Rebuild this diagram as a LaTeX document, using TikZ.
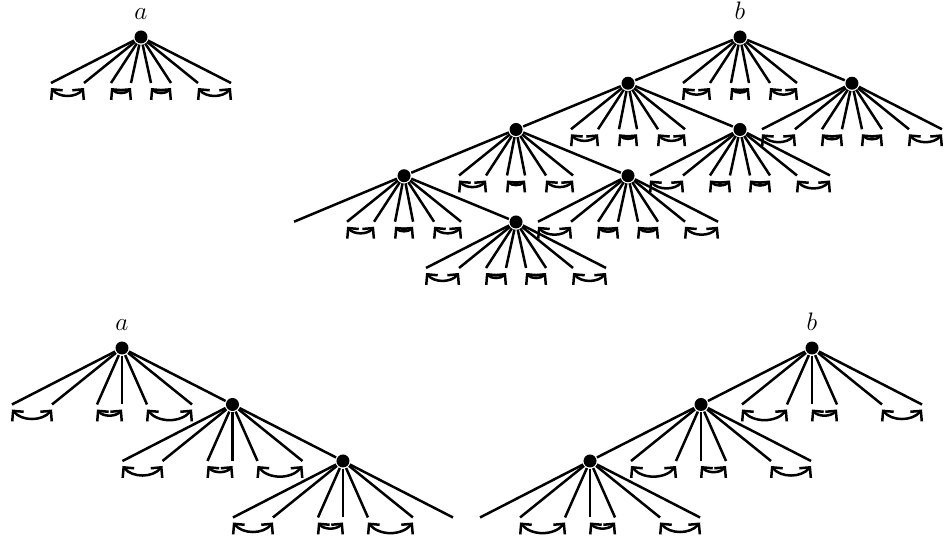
\documentclass[tikz,border=0pt]{standalone}
\usepackage{tikz}
\usetikzlibrary{arrows.meta, positioning}

\tikzset{
    vertex/.style={circle, fill, inner sep=0, minimum size=0.26cm},
    swing/.style={{Straight Barb[length=0.15cm, width=0.3cm]}-{Straight Barb[length=0.15cm, width=0.3cm]}, bend right=50},
    every label/.style={font=\Large, label distance=0.05cm}
}

% fan below a vertex: name, drop, offsets, paired offsets
\newcommand{\fan}[4]{%
    \foreach \d [count=\i] in {#3}{
        \path (#1) ++(\d,-#2) coordinate (#1-\i) ++(0,-5) coordinate (#1-\i-s);
        \draw (#1) -- (#1-\i);
    }
    \foreach \p/\q in {#4}
        \draw[swing] (#1-\p-s) to (#1-\q-s);
}

\begin{document}
\begin{tikzpicture}[x=0.02cm, y=0.02cm, line width=0.05cm, on grid]

\useasboundingbox (0,0) rectangle (944,548);

% top row
\node[vertex, label=above:$a$] (ta) at (141,511) {};
\node[vertex, label=above:$b$] (tb) at (740,511) {};

\node[vertex, below left=0.925cm and 2.24cm of tb] (tbL) {};
\node[vertex, below right=0.925cm and 2.24cm of tb] (tbR) {};
\node[vertex, below left=0.925cm and 2.24cm of tbL] (tbLL) {};
\node[vertex, below right=0.925cm and 2.24cm of tbL] (tbLR) {};
\node[vertex, below left=0.925cm and 2.24cm of tbLL] (tbLLL) {};
\node[vertex, below right=0.925cm and 2.24cm of tbLL] (tbLLR) {};
\node[vertex, below right=0.925cm and 2.24cm of tbLLL] (tbLLLR) {};

\draw (tb) edge (tbL)
    (tb) edge (tbR)
    (tbL) edge (tbLL)
    (tbL) edge (tbLR)
    (tbLL) edge (tbLLL)
    (tbLL) edge (tbLLR)
    (tbLLL) edge (tbLLLR);

\fan{ta}{46}{-90,-57,-30,-10,10,30,57,90}{1/2,3/4,5/6,7/8}
\fan{tb}{46}{-57,-30,-9,9,30,57}{1/2,3/4,5/6}
\fan{tbL}{46}{-57,-30,-9,9,30,57}{1/2,3/4,5/6}
\fan{tbR}{46}{-90,-57,-30,-10,10,30,57,90}{1/2,3/4,5/6,7/8}
\fan{tbLL}{46}{-57,-30,-9,9,30,57}{1/2,3/4,5/6}
\fan{tbLR}{46}{-90,-57,-30,-10,10,30,57,90}{1/2,3/4,5/6,7/8}
\fan{tbLLL}{46}{-110,-57,-30,-9,9,30,57}{2/3,4/5,6/7}
\fan{tbLLR}{46}{-90,-57,-30,-10,10,30,57,90}{1/2,3/4,5/6,7/8}
\fan{tbLLLR}{46}{-90,-57,-30,-10,10,30,57,90}{1/2,3/4,5/6,7/8}

% bottom row
\node[vertex, label=above:$a$] (ba) at (122,200) {};
\node[vertex, below right=1.13cm and 2.21cm of ba] (baR) {};
\node[vertex, below right=1.13cm and 2.21cm of baR] (baRR) {};

\node[vertex, label=above:$b$] (bb) at (812,200) {};
\node[vertex, below left=1.13cm and 2.22cm of bb] (bbL) {};
\node[vertex, below left=1.13cm and 2.22cm of bbL] (bbLL) {};

\draw (ba) edge (baR)
    (baR) edge (baRR)
    (bb) edge (bbL)
    (bbL) edge (bbLL);

\fan{ba}{56.5}{-110,-70,-25,0,25,70}{1/2,3/4,5/6}
\fan{baR}{56.5}{-110,-70,-25,0,25,70}{1/2,3/4,5/6}
\fan{baRR}{56.5}{-110,-70,-25,0,25,70,110}{1/2,3/4,5/6}
\fan{bb}{56.5}{-70,-25,0,25,70,110}{1/2,3/4,5/6}
\fan{bbL}{56.5}{-70,-25,0,25,70,110}{1/2,3/4,5/6}
\fan{bbLL}{56.5}{-110,-70,-25,0,25,70,110}{2/3,4/5,6/7}

\end{tikzpicture}
\end{document}
